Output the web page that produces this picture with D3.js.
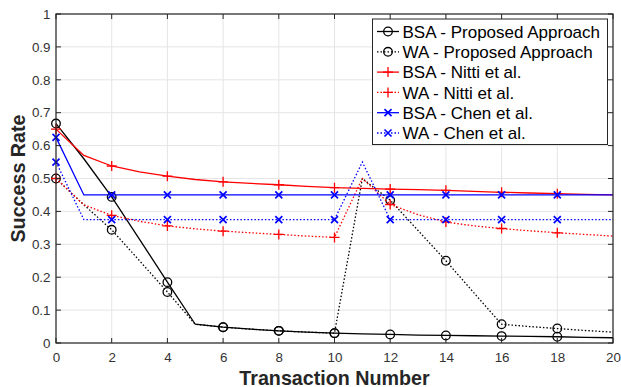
<!DOCTYPE html>
<meta charset="utf-8">
<style>
body { margin: 0; background: #fff; }
text { font-family: "Liberation Sans", Arial, Helvetica, sans-serif; }
.grid line { stroke: #e5e5e5; stroke-width: 1; }
</style>
<body>
<svg width="621" height="387"></svg>
<script src="https://d3js.org/d3.v7.min.js"></script>
<script>

// transaction number 0..20
var xs = d3.range(0, 21);

var bsaProposed = [0.667, 0.56, 0.444, 0.315, 0.185, 0.057, 0.048, 0.042, 0.037, 0.033, 0.03,
                   0.028, 0.026, 0.024, 0.023, 0.022, 0.021, 0.02, 0.019, 0.017, 0.016];
var waProposed  = [0.5, 0.42, 0.344, 0.25, 0.155, 0.057, 0.048, 0.042, 0.037, 0.033, 0.03,
                   0.5, 0.434, 0.342, 0.25, 0.153, 0.057, 0.05, 0.044, 0.038, 0.033];
var bsaNitti    = [0.65, 0.57, 0.538, 0.52, 0.507, 0.497, 0.49, 0.485, 0.481, 0.476, 0.472,
                   0.47, 0.468, 0.466, 0.464, 0.461, 0.458, 0.456, 0.454, 0.452, 0.45];
var waNitti     = [0.5, 0.42, 0.388, 0.37, 0.356, 0.347, 0.34, 0.335, 0.33, 0.325, 0.321,
                   0.5, 0.421, 0.39, 0.368, 0.356, 0.348, 0.341, 0.335, 0.33, 0.325];
var bsaChen     = [0.625, 0.45, 0.45, 0.45, 0.45, 0.45, 0.45, 0.45, 0.45, 0.45, 0.45,
                   0.45, 0.45, 0.45, 0.45, 0.45, 0.45, 0.45, 0.45, 0.45, 0.45];
var waChen      = [0.55, 0.375, 0.375, 0.375, 0.375, 0.375, 0.375, 0.375, 0.375, 0.375, 0.375,
                   0.55, 0.375, 0.375, 0.375, 0.375, 0.375, 0.375, 0.375, 0.375, 0.375];

var xTicks = d3.range(0, 21, 2);
var yTicks = d3.range(0, 11).map(function(i) { return i / 10; });

var series = [
  {name: "BSA - Proposed Approach", values: bsaProposed, color: "#000", dash: null, marker: "o"},
  {name: "WA - Proposed Approach",  values: waProposed,  color: "#000", dash: "1.5,2", marker: "o"},
  {name: "BSA - Nitti et al.",      values: bsaNitti,    color: "#ff0000", dash: null, marker: "+"},
  {name: "WA - Nitti et al.",       values: waNitti,     color: "#ff0000", dash: "1.5,2", marker: "+"},
  {name: "BSA - Chen et al.",       values: bsaChen,     color: "#0000ff", dash: null, marker: "x"},
  {name: "WA - Chen et al.",        values: waChen,      color: "#0000ff", dash: "1.5,2", marker: "x"}
];

var svg = d3.select("svg");
var pLeft = 56, pRight = 613, pTop = 14, pBottom = 343;

var x = d3.scaleLinear().domain([0, 20]).range([pLeft, pRight]);
var y = d3.scaleLinear().domain([0, 1]).range([pBottom, pTop]);

// grid
var grid = svg.append("g").attr("class", "grid");
grid.selectAll(".gx").data(xTicks).enter().append("line")
    .attr("x1", d => x(d)).attr("x2", d => x(d)).attr("y1", pTop).attr("y2", pBottom);
grid.selectAll(".gy").data(yTicks).enter().append("line")
    .attr("y1", d => y(d)).attr("y2", d => y(d)).attr("x1", pLeft).attr("x2", pRight);

// lines
var line = d3.line().x((d, i) => x(xs[i])).y(d => y(d));

function drawMarker(g, type, cx, cy, color) {
  if (type == "o") {
    g.append("circle").attr("cx", cx).attr("cy", cy).attr("r", 4.3)
      .attr("fill", "none").attr("stroke", color).attr("stroke-width", 1.3);
  } else if (type == "+") {
    var s = 5;
    g.append("path").attr("d", "M" + (cx - s) + "," + cy + "H" + (cx + s) + "M" + cx + "," + (cy - s) + "V" + (cy + s))
      .attr("stroke", color).attr("stroke-width", 1.3).attr("fill", "none");
  } else {
    var s = 3.5;
    g.append("path").attr("d", "M" + (cx - s) + "," + (cy - s) + "L" + (cx + s) + "," + (cy + s) +
        "M" + (cx - s) + "," + (cy + s) + "L" + (cx + s) + "," + (cy - s))
      .attr("stroke", color).attr("stroke-width", 1.7).attr("fill", "none");
  }
}

var plot = svg.append("g");
series.forEach(function(s) {
  plot.append("path")
      .datum(s.values)
      .attr("d", line)
      .attr("fill", "none")
      .attr("stroke", s.color)
      .attr("stroke-width", 1.3)
      .attr("stroke-dasharray", s.dash);
  var mg = plot.append("g");
  s.values.forEach(function(v, i) {
    if (xs[i] % 2 == 0 && xs[i] < 20) drawMarker(mg, s.marker, x(xs[i]), y(v), s.color);
  });
});

// axes (box)
var axisColor = "#262626";
var xa = svg.append("g").attr("transform", "translate(0," + pBottom + ")")
    .call(d3.axisBottom(x).tickValues(xTicks).tickSize(0).tickPadding(9).tickFormat(d3.format("d")));
var ya = svg.append("g").attr("transform", "translate(" + pLeft + ",0)")
    .call(d3.axisLeft(y).tickValues(yTicks).tickSize(0).tickPadding(5.5).tickFormat(d => d == 0 || d == 1 ? d3.format("d")(d) : d3.format(".1f")(d)));
[xa, ya].forEach(function(a) {
  a.select(".domain").remove();
  a.selectAll("text").attr("fill", "#333").style("font-size", "13.4px")
    .style("font-family", "'Liberation Sans', Arial, Helvetica, sans-serif");
});

var ticks = svg.append("g").attr("stroke", axisColor).attr("stroke-width", 1);
xTicks.forEach(function(t) {
  ticks.append("line").attr("x1", x(t)).attr("x2", x(t)).attr("y1", pBottom).attr("y2", pBottom - 5);
  ticks.append("line").attr("x1", x(t)).attr("x2", x(t)).attr("y1", pTop).attr("y2", pTop + 5);
});
yTicks.forEach(function(t) {
  ticks.append("line").attr("x1", pLeft).attr("x2", pLeft + 5).attr("y1", y(t)).attr("y2", y(t));
  ticks.append("line").attr("x1", pRight).attr("x2", pRight - 5).attr("y1", y(t)).attr("y2", y(t));
});
svg.append("rect").attr("x", pLeft).attr("y", pTop).attr("width", pRight - pLeft).attr("height", pBottom - pTop)
    .attr("fill", "none").attr("stroke", axisColor).attr("stroke-width", 1.2);

// axis titles
svg.append("text").attr("x", (pLeft + pRight) / 2).attr("y", 385)
    .attr("text-anchor", "middle").attr("fill", axisColor)
    .style("font-size", "19.7px").style("font-weight", "bold").text("Transaction Number");
svg.append("text").attr("transform", "translate(25," + ((pTop + pBottom) / 2) + ") rotate(-90)")
    .attr("text-anchor", "middle").attr("fill", axisColor)
    .style("font-size", "19.7px").style("font-weight", "bold").text("Success Rate");

// legend
var lg = svg.append("g");
lg.append("rect").attr("x", 372.5).attr("y", 19).attr("width", 235).attr("height", 125.5)
    .attr("fill", "#fff").attr("stroke", axisColor).attr("stroke-width", 1);
series.forEach(function(s, i) {
  var ly = 31.5 + i * 20.3;
  lg.append("line").attr("x1", 377).attr("x2", 399).attr("y1", ly).attr("y2", ly)
    .attr("stroke", s.color).attr("stroke-width", 1.3).attr("stroke-dasharray", s.dash);
  drawMarker(lg, s.marker, 388, ly, s.color);
  lg.append("text").attr("x", 402.5).attr("y", ly).attr("dy", "0.36em")
    .attr("fill", "#000").style("font-size", "17px").text(s.name);
});

</script>
</body>
